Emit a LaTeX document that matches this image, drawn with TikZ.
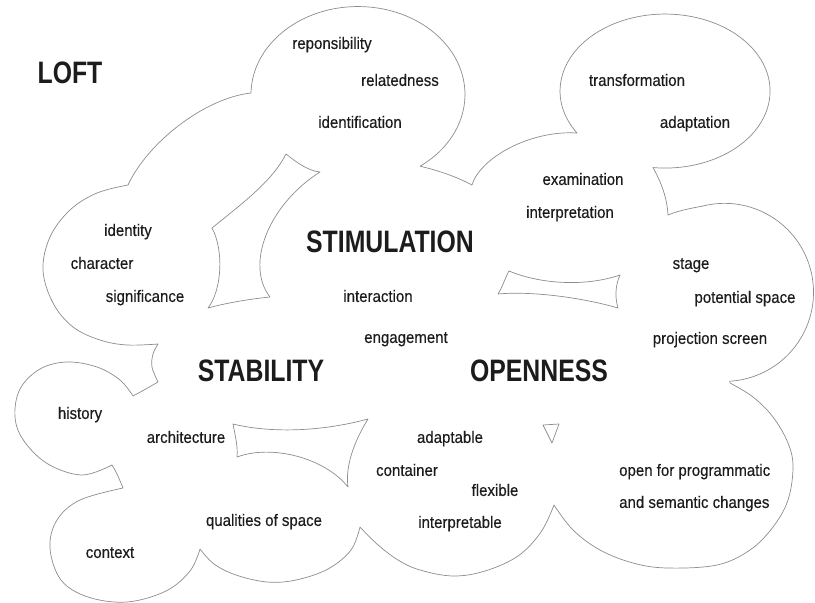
\documentclass[tikz,border=0pt]{standalone}
\usepackage{fontspec}
\setmainfont{Liberation Sans}[FakeStretch=0.91, FakeBold=0.35]
\newfontfamily\headfont{Liberation Sans}[FakeStretch=0.8]
\usepackage{xcolor}
\usetikzlibrary{positioning}

\definecolor{inkgray}{HTML}{1C1C1C}
\definecolor{linegray}{HTML}{8C8C8C}

\begin{document}
\begin{tikzpicture}[
  x=1pt, y=-1pt,
  term/.style={inner sep=0pt, text=inkgray, text height=11.8pt, text depth=0pt, font=\fontsize{16.5}{20}\selectfont},
  heading/.style={inner sep=0pt, text=inkgray, text height=22.2pt, text depth=0pt, font=\headfont\bfseries\fontsize{31}{36}\selectfont},
  cloudline/.style={draw=linegray, line width=0.7pt, line join=round}
]
\useasboundingbox (0,0) rectangle (815,603);

% outer cloud, lobe by lobe, clockwise from the upper left
\draw[cloudline]
  (128,185) .. controls (148,142) and (205,98) .. (251,93)
  arc[start angle=181, end angle=414.5, x radius=107, y radius=88]
  .. controls (440,171) and (457,177) .. (472,185)
  .. controls (480,158) and (530,130) .. (577,133)
  arc[start angle=147, end angle=456.6, x radius=105, y radius=77]
  .. controls (661,182) and (667,197) .. (668,215)
  .. controls (680,210) and (693,208) .. (703,206)
  arc[start angle=256, end angle=446.7, radius=89]
  -- plot[smooth, tension=0.6] coordinates {(730,383) (753,397) (773,417) (788,443) (793,467) (788,500) (773,527) (750,550) (717,565) (667,568) (633,563) (600,550) (573,530) (554,505)}
  -- plot[smooth, tension=0.6] coordinates {(554,505) (541,532) (518,556) (485,571) (453,576) (420,570) (398,560) (377,544) (360,527)}
  -- plot[smooth, tension=0.6] coordinates {(360,527) (351,550) (328,569) (296,580) (267,582) (236,575) (214,564) (200,549)}
  -- plot[smooth, tension=0.6] coordinates {(200,549) (190,571) (166,591) (127,602) (88,597) (61,580) (50,548) (57,520) (80,500) (123,488)}
  -- plot[smooth, tension=0.6] coordinates {(123,488) (117,474) (112,465)}
  -- plot[smooth, tension=0.6] coordinates {(112,465) (82,475) (48,464) (24,441) (15,417) (20,389) (40,369) (67,362) (97,367) (120,380) (133,396)}
  -- plot[smooth, tension=0.6] coordinates {(133,396) (144,390) (158,382)}
  -- plot[smooth, tension=0.6] coordinates {(158,382) (152,367) (153,354) (158,344)}
  -- plot[smooth, tension=0.6] coordinates {(158,344) (127,345) (100,340) (73,327) (53,303) (43,270) (50,237) (70,210) (97,193) (128,185)}
  -- cycle;

% openings inside the cloud
\draw[cloudline] (286,154) .. controls (297,163) and (309,171) .. (320,172)
  .. controls (268,205) and (245,265) .. (270,297)
  .. controls (250,299) and (226,303) .. (208,308)
  .. controls (222,290) and (224,250) .. (212,228)
  .. controls (240,205) and (272,182) .. (286,154) -- cycle;
\draw[cloudline] (509,271) .. controls (540,284) and (585,287) .. (620,275)
  .. controls (615,286) and (615,298) .. (618,308)
  .. controls (580,297) and (530,291) .. (498,294)
  .. controls (503,286) and (505,278) .. (509,271) -- cycle;
\draw[cloudline] (233,424) .. controls (270,433) and (320,432) .. (368,419)
  .. controls (355,440) and (345,465) .. (348,487)
  .. controls (325,458) and (272,444) .. (237,457)
  .. controls (238,446) and (235,435) .. (233,424) -- cycle;
\draw[cloudline] (543,425) -- (559,424) -- (552,443) -- cycle;

\node[heading] (loft) at (70,72) {LOFT};
\node[heading] (stimulation) at (390,241) {STIMULATION};
\node[heading] (stability) at (261,370) {STABILITY};
\node[heading] (openness) at (539,370) {OPENNESS};

\node[term] (responsibility) at (332,43) {reponsibility};
\node[term] (relatedness) at (400,80) {relatedness};
\node[term] (identification) at (360,122) {identification};
\node[term] (transformation) at (637,80) {transformation};
\node[term] (adaptation) at (695,122) {adaptation};
\node[term] (examination) at (583,179) {examination};
\node[term] (interpretation) at (570,212) {interpretation};
\node[term] (identity) at (128,230) {identity};
\node[term] (character) at (102,263) {character};
\node[term] (significance) at (145,296) {significance};
\node[term] (interaction) at (378,296) {interaction};
\node[term] (engagement) at (406,337) {engagement};
\node[term] (stage) at (691,263) {stage};
\node[term] (potential) at (745,297) {potential space};
\node[term] (projection) at (710,338) {projection screen};
\node[term] (history) at (80,413) {history};
\node[term] (architecture) at (186,437) {architecture};
\node[term] (adaptable) at (450,437) {adaptable};
\node[term] (container) at (407,470) {container};
\node[term] (flexible) at (495,490) {flexible};
\node[term] (interpretable) at (460,522) {interpretable};
\node[term, anchor=west] (programmatic) at (619,470) {open for programmatic};
\node[term, anchor=west] (semantic) at (619,502) {and semantic changes};
\node[term] (qualities) at (264,520) {qualities of space};
\node[term] (context) at (110,552) {context};
\end{tikzpicture}
\end{document}
